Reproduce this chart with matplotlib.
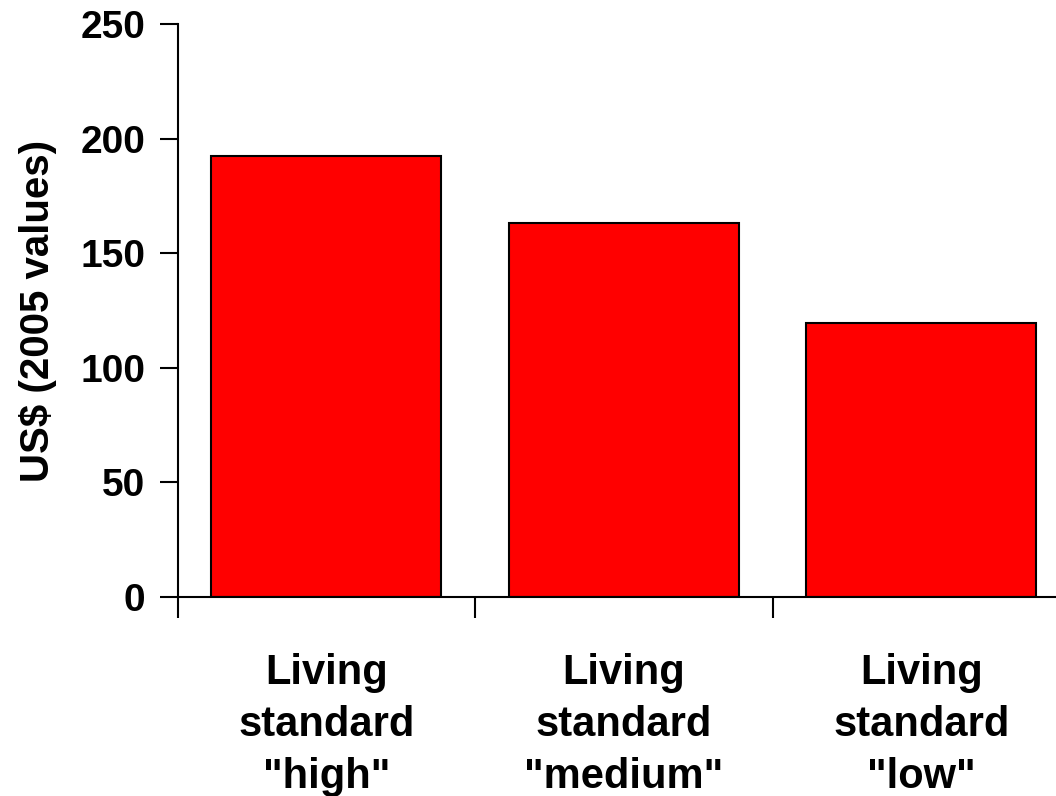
import numpy as np
import matplotlib.pyplot as plt

plt.rcParams['font.family'] = ['Liberation Sans', 'DejaVu Sans']
plt.rcParams['font.weight'] = 'bold'

# values
categories = ['Living\nstandard\n"high"', 'Living\nstandard\n"medium"', 'Living\nstandard\n"low"']
values = [192.5, 163, 119.7]

fig = plt.figure(figsize=(10.56, 7.96), dpi=100)
ax = fig.add_axes([0.1681, 0.25, 0.8452, 0.7198])

x = np.arange(len(values)) + 0.5
ax.bar(x, values, width=0.773, color='#ff0000', edgecolor='black', linewidth=1.5, zorder=2)

ax.set_xlim(0, 3)
ax.set_ylim(0, 250)
ax.set_yticks([0, 50, 100, 150, 200, 250])
ax.set_xticks([0, 1, 2, 3])
ax.set_xticklabels([])
ax.set_xticks(x, minor=True)
ax.set_xticklabels(categories, minor=True, fontsize=30, fontweight='bold', linespacing=1.4)
ax.tick_params(axis='x', which='minor', length=0, pad=40)
ax.tick_params(axis='x', which='major', length=15, width=1.5, direction='out')
ax.tick_params(axis='y', length=13, width=1.5, direction='out', labelsize=28, pad=10)
for lbl in ax.get_yticklabels():
    lbl.set_fontweight('bold')

ax.spines['top'].set_visible(False)
ax.spines['right'].set_visible(False)
ax.spines['left'].set_linewidth(1.5)
ax.spines['bottom'].set_linewidth(1.5)

ax.set_ylabel('US$ (2005 values)', fontsize=29, fontweight='bold')
ax.yaxis.set_label_coords(-0.135, 0.5)

fig.savefig('out.png', dpi=100)
